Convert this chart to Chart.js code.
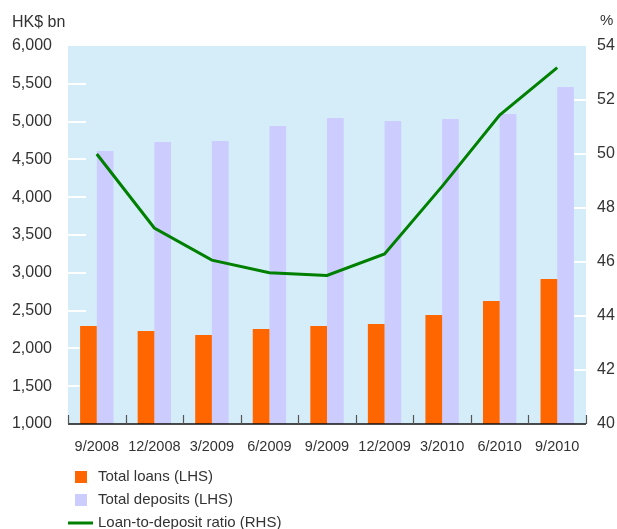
<!DOCTYPE html>
<html>
<head>
<meta charset="utf-8">
<script src="https://cdn.jsdelivr.net/npm/chart.js@4.4.1/dist/chart.umd.min.js"></script>
<style>
  html, body { margin: 0; padding: 0; background: #fff; }
  #wrap { width: 617px; height: 529px; }
</style>
</head>
<body>
<div id="wrap"><canvas id="chart" width="617" height="529"></canvas></div>
<script>
// Chart data
const quarters = ['9/2008', '12/2008', '3/2009', '6/2009', '9/2009', '12/2009', '3/2010', '6/2010', '9/2010'];
const totalLoans = [2296, 2230, 2177, 2257, 2296, 2323, 2442, 2627, 2918];
const totalDeposits = [4611, 4730, 4743, 4942, 5048, 5008, 5034, 5101, 5458];
const ldRatio = [50.0, 47.26, 46.07, 45.6, 45.5, 46.3, 48.8, 51.44, 53.2];
const leftTicks = [1000, 1500, 2000, 2500, 3000, 3500, 4000, 4500, 5000, 5500, 6000];
const rightTicks = [40, 42, 44, 46, 48, 50, 52, 54];

const FONT = '"Liberation Sans", Arial, Helvetica, sans-serif';
const TEXT = '#333333';
const ORANGE = '#ff6600';
const LAVENDER = '#ccccff';
const GREEN = '#008000';
const PLOT_BG = '#d5edf9';

// Plot background, white inner ticks, axis line and category ticks
const framePlugin = {
    id: 'frame',
    beforeDraw(chart) {
        const { ctx, chartArea: a } = chart;
        ctx.save();
        ctx.fillStyle = '#ffffff';
        ctx.fillRect(0, 0, chart.width, chart.height);
        ctx.fillStyle = PLOT_BG;
        ctx.fillRect(a.left, a.top, a.right - a.left, a.bottom - a.top);
        ctx.restore();
    },
    beforeDatasetsDraw(chart) {
        const { ctx, chartArea: a, scales } = chart;
        ctx.save();
        ctx.strokeStyle = '#ffffff';
        ctx.lineWidth = 2;
        leftTicks.slice(1, -1).forEach(v => {
            const y = Math.round(scales.y.getPixelForValue(v));
            ctx.beginPath();
            ctx.moveTo(a.left, y);
            ctx.lineTo(a.left + 18, y);
            ctx.stroke();
        });
        rightTicks.slice(1, -1).forEach(v => {
            const y = Math.round(scales.y1.getPixelForValue(v));
            ctx.beginPath();
            ctx.moveTo(a.right - 12, y);
            ctx.lineTo(a.right, y);
            ctx.stroke();
        });
        ctx.restore();
    },
    afterDatasetsDraw(chart) {
        const { ctx, chartArea: a } = chart;
        ctx.save();
        ctx.strokeStyle = '#111111';
        ctx.lineWidth = 1.5;
        ctx.beginPath();
        ctx.moveTo(a.left, a.bottom);
        ctx.lineTo(a.right, a.bottom);
        ctx.stroke();
        const step = (a.right - a.left) / quarters.length;
        ctx.strokeStyle = '#555555';
        ctx.lineWidth = 1.2;
        for (let i = 0; i <= quarters.length; i++) {
            const x = Math.round(a.left + i * step) + 0.5;
            ctx.beginPath();
            ctx.moveTo(x, a.bottom);
            ctx.lineTo(x, a.bottom - 9);
            ctx.stroke();
        }
        ctx.restore();
    },
    afterDraw(chart) {
        const ctx = chart.ctx;
        ctx.save();
        ctx.fillStyle = TEXT;
        ctx.font = '16px ' + FONT;
        ctx.textBaseline = 'middle';
        ctx.textAlign = 'left';
        ctx.fillText('HK$ bn', 12, 23);
        ctx.font = '15px ' + FONT;
        ctx.fillText('%', 600, 21);

        // Legend
        const rows = [
            { label: 'Total loans (LHS)', color: ORANGE, y: 477, type: 'box' },
            { label: 'Total deposits (LHS)', color: LAVENDER, y: 500, type: 'box' },
            { label: 'Loan-to-deposit ratio (RHS)', color: GREEN, y: 523, type: 'line' }
        ];
        ctx.font = '15px ' + FONT;
        rows.forEach(r => {
            if (r.type === 'box') {
                ctx.fillStyle = r.color;
                ctx.fillRect(75, r.y - 6, 12, 12);
            } else {
                ctx.strokeStyle = r.color;
                ctx.lineWidth = 3;
                ctx.beginPath();
                ctx.moveTo(68, r.y);
                ctx.lineTo(93, r.y);
                ctx.stroke();
            }
            ctx.fillStyle = TEXT;
            ctx.fillText(r.label, 98, r.y);
        });
        ctx.restore();
    }
};

new Chart(document.getElementById('chart'), {
    data: {
        labels: quarters,
        datasets: [
            {
                type: 'line',
                label: 'Loan-to-deposit ratio (RHS)',
                data: ldRatio,
                yAxisID: 'y1',
                borderColor: GREEN,
                borderWidth: 3,
                pointRadius: 0,
                tension: 0,
                fill: false,
                order: 0
            },
            {
                type: 'bar',
                label: 'Total loans (LHS)',
                data: totalLoans,
                yAxisID: 'y',
                backgroundColor: ORANGE,
                borderWidth: 0,
                categoryPercentage: 0.58,
                barPercentage: 1.0,
                order: 1
            },
            {
                type: 'bar',
                label: 'Total deposits (LHS)',
                data: totalDeposits,
                yAxisID: 'y',
                backgroundColor: LAVENDER,
                borderWidth: 0,
                categoryPercentage: 0.58,
                barPercentage: 1.0,
                order: 2
            }
        ]
    },
    options: {
        responsive: false,
        animation: false,
        layout: { padding: { top: 46, left: 0, right: 0, bottom: 0 } },
        scales: {
            x: {
                offset: true,
                grid: { display: false, drawTicks: false },
                border: { display: false },
                ticks: {
                    font: { family: FONT, size: 14.5 },
                    color: TEXT,
                    padding: 14,
                    maxRotation: 0,
                    autoSkip: false
                },
                afterFit: s => { s.height = 105; }
            },
            y: {
                position: 'left',
                min: 1000,
                max: 6000,
                grid: { display: false, drawTicks: false },
                border: { display: false },
                ticks: {
                    stepSize: 500,
                    font: { family: FONT, size: 16 },
                    color: TEXT,
                    padding: 16,
                    callback: v => v.toLocaleString('en-US')
                },
                afterFit: s => { s.width = 68; }
            },
            y1: {
                position: 'right',
                min: 40,
                max: 54,
                grid: { display: false, drawTicks: false },
                border: { display: false },
                ticks: {
                    stepSize: 2,
                    font: { family: FONT, size: 16 },
                    color: TEXT,
                    padding: 11
                },
                afterFit: s => { s.width = 31; }
            }
        },
        plugins: {
            legend: { display: false },
            tooltip: { enabled: false }
        }
    },
    plugins: [framePlugin]
});
</script>
</body>
</html>
